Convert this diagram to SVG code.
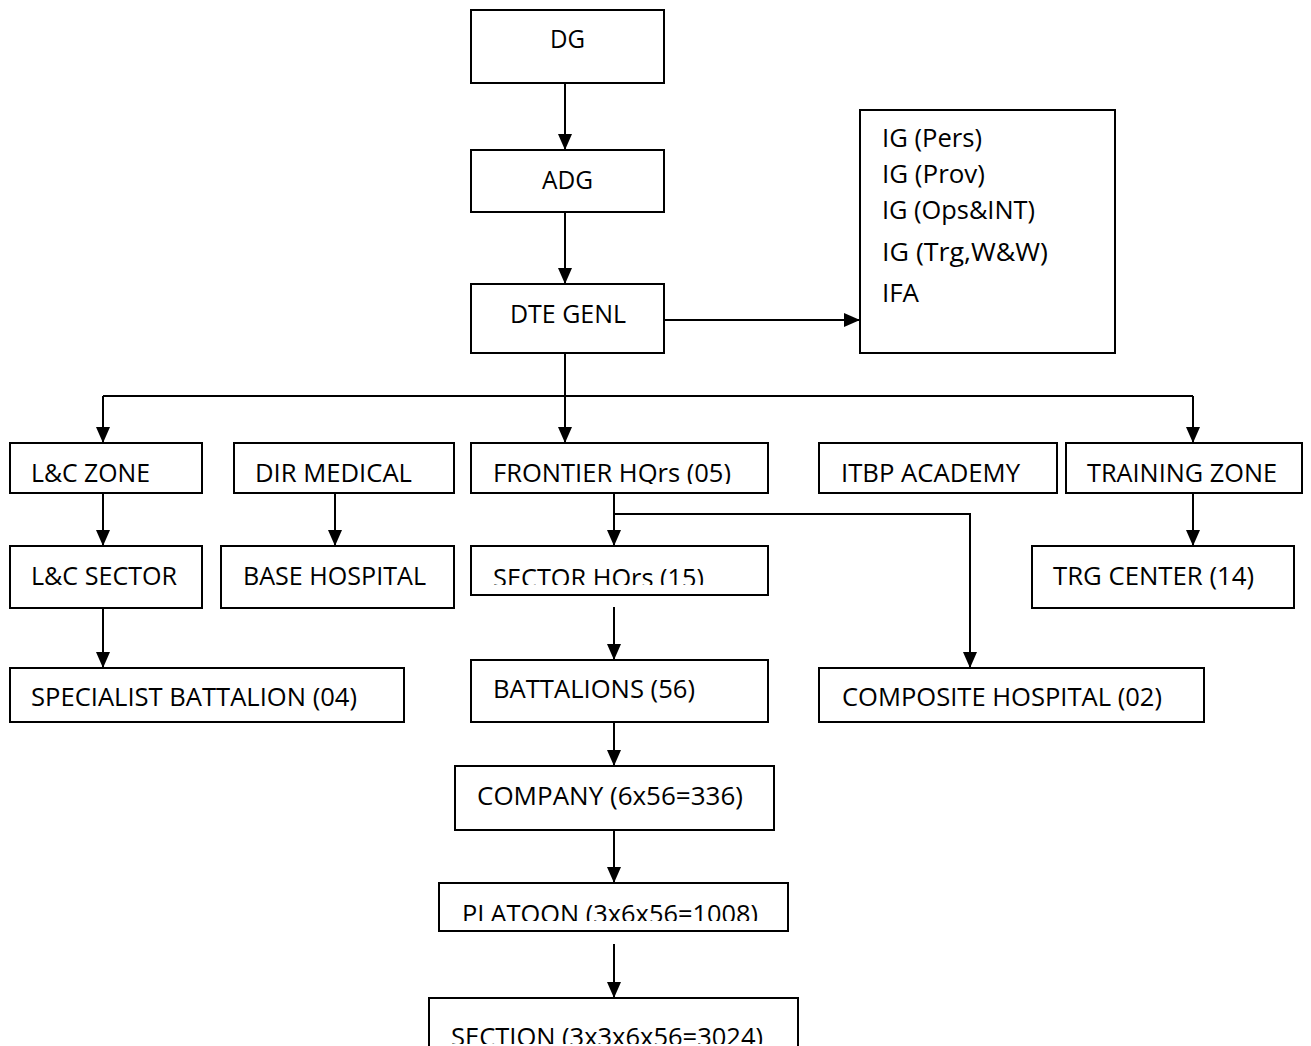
<svg xmlns="http://www.w3.org/2000/svg" width="1311" height="1046" viewBox="0 0 1311 1046">
<style>
.box{fill:#fff;stroke:#000;stroke-width:2}
.t{font-family:"Open Sans","Noto Sans",sans-serif;font-size:26px;fill:#000}
.c{fill:none;stroke:#000;stroke-width:2}
</style>
<defs>
<marker id="ah" viewBox="0 0 16 14" refX="16" refY="7" markerWidth="16" markerHeight="14" markerUnits="userSpaceOnUse" orient="auto">
<path d="M0,0 L16,7 L0,14 z" fill="#000"/>
</marker>
<clipPath id="cpF"><rect x="460" y="440" width="320" height="44"/></clipPath>
<clipPath id="cpS"><rect x="460" y="540" width="320" height="45"/></clipPath>
<clipPath id="cpP"><rect x="430" y="880" width="370" height="41"/></clipPath>
<clipPath id="cpX"><rect x="420" y="990" width="390" height="54"/></clipPath>
</defs>
<g id="connectors">
<line class="c" x1="565" y1="83" x2="565" y2="150" marker-end="url(#ah)"/>
<line class="c" x1="565" y1="212" x2="565" y2="284" marker-end="url(#ah)"/>
<line class="c" x1="664" y1="320" x2="860" y2="320" marker-end="url(#ah)"/>
<polyline class="c" points="565,353 565,396"/>
<polyline class="c" points="103,396 1193,396"/>
<line class="c" x1="103" y1="396" x2="103" y2="443" marker-end="url(#ah)"/>
<line class="c" x1="565" y1="396" x2="565" y2="443" marker-end="url(#ah)"/>
<line class="c" x1="1193" y1="396" x2="1193" y2="443" marker-end="url(#ah)"/>
<line class="c" x1="103" y1="493" x2="103" y2="546" marker-end="url(#ah)"/>
<line class="c" x1="335" y1="493" x2="335" y2="546" marker-end="url(#ah)"/>
<line class="c" x1="614" y1="493" x2="614" y2="546" marker-end="url(#ah)"/>
<polyline class="c" points="614,514 970,514 970,668" marker-end="url(#ah)"/>
<line class="c" x1="1193" y1="493" x2="1193" y2="546" marker-end="url(#ah)"/>
<line class="c" x1="103" y1="608" x2="103" y2="668" marker-end="url(#ah)"/>
<line class="c" x1="614" y1="607" x2="614" y2="660" marker-end="url(#ah)"/>
<line class="c" x1="614" y1="722" x2="614" y2="766" marker-end="url(#ah)"/>
<line class="c" x1="614" y1="830" x2="614" y2="883" marker-end="url(#ah)"/>
<line class="c" x1="614" y1="944" x2="614" y2="998" marker-end="url(#ah)"/>
</g>
<g id="n-dg"><rect class="box" x="471" y="10" width="193" height="73"/><text class="t" x="550" y="48" textLength="35" lengthAdjust="spacingAndGlyphs">DG</text></g>
<g id="n-adg"><rect class="box" x="471" y="150" width="193" height="62"/><text class="t" x="542" y="189" textLength="51" lengthAdjust="spacingAndGlyphs">ADG</text></g>
<g id="n-dte"><rect class="box" x="471" y="284" width="193" height="69"/><text class="t" x="510" y="323" textLength="116" lengthAdjust="spacingAndGlyphs">DTE GENL</text></g>
<g id="n-ig"><rect class="box" x="860" y="110" width="255" height="243"/>
<text class="t" x="882" y="147" textLength="100" lengthAdjust="spacingAndGlyphs">IG (Pers)</text>
<text class="t" x="882" y="183" textLength="103" lengthAdjust="spacingAndGlyphs">IG (Prov)</text>
<text class="t" x="882" y="219" textLength="153" lengthAdjust="spacingAndGlyphs">IG (Ops&amp;INT)</text>
<text class="t" x="882" y="261" textLength="166" lengthAdjust="spacingAndGlyphs">IG (Trg,W&amp;W)</text>
<text class="t" x="882" y="302" textLength="37" lengthAdjust="spacingAndGlyphs">IFA</text>
</g>
<g id="n-lczone"><rect class="box" x="10" y="443" width="192" height="50"/><text class="t" x="31" y="482" textLength="119" lengthAdjust="spacingAndGlyphs">L&amp;C ZONE</text></g>
<g id="n-dirmed"><rect class="box" x="234" y="443" width="220" height="50"/><text class="t" x="255" y="482" textLength="157" lengthAdjust="spacingAndGlyphs">DIR MEDICAL</text></g>
<g id="n-frontier"><rect class="box" x="471" y="443" width="297" height="50"/><text class="t" x="493" y="482" textLength="238" lengthAdjust="spacingAndGlyphs" clip-path="url(#cpF)">FRONTIER HQrs (05)</text></g>
<g id="n-itbp"><rect class="box" x="819" y="443" width="238" height="50"/><text class="t" x="841" y="482" textLength="179" lengthAdjust="spacingAndGlyphs">ITBP ACADEMY</text></g>
<g id="n-trgzone"><rect class="box" x="1066" y="443" width="236" height="50"/><text class="t" x="1087" y="482" textLength="190" lengthAdjust="spacingAndGlyphs">TRAINING ZONE</text></g>
<g id="n-lcsector"><rect class="box" x="10" y="546" width="192" height="62"/><text class="t" x="31" y="585" textLength="146" lengthAdjust="spacingAndGlyphs">L&amp;C SECTOR</text></g>
<g id="n-basehosp"><rect class="box" x="221" y="546" width="233" height="62"/><text class="t" x="243" y="585" textLength="183" lengthAdjust="spacingAndGlyphs">BASE HOSPITAL</text></g>
<g id="n-sector"><rect class="box" x="471" y="546" width="297" height="49"/><text class="t" x="493" y="587" textLength="211" lengthAdjust="spacingAndGlyphs" clip-path="url(#cpS)">SECTOR HQrs (15)</text></g>
<g id="n-trgcenter"><rect class="box" x="1032" y="546" width="262" height="62"/><text class="t" x="1053" y="585" textLength="201" lengthAdjust="spacingAndGlyphs">TRG CENTER (14)</text></g>
<g id="n-specialist"><rect class="box" x="10" y="668" width="394" height="54"/><text class="t" x="31" y="706" textLength="326" lengthAdjust="spacingAndGlyphs">SPECIALIST BATTALION (04)</text></g>
<g id="n-battalions"><rect class="box" x="471" y="660" width="297" height="62"/><text class="t" x="493" y="698" textLength="202" lengthAdjust="spacingAndGlyphs">BATTALIONS (56)</text></g>
<g id="n-composite"><rect class="box" x="819" y="668" width="385" height="54"/><text class="t" x="842" y="706" textLength="320" lengthAdjust="spacingAndGlyphs">COMPOSITE HOSPITAL (02)</text></g>
<g id="n-company"><rect class="box" x="455" y="766" width="319" height="64"/><text class="t" x="477" y="805" textLength="266" lengthAdjust="spacingAndGlyphs">COMPANY (6x56=336)</text></g>
<g id="n-platoon"><rect class="box" x="439" y="883" width="349" height="48"/><text class="t" x="462" y="923" textLength="296" lengthAdjust="spacingAndGlyphs" clip-path="url(#cpP)">PLATOON (3x6x56=1008)</text></g>
<g id="n-section"><rect class="box" x="429" y="998" width="369" height="60"/><text class="t" x="451" y="1046" textLength="312" lengthAdjust="spacingAndGlyphs" clip-path="url(#cpX)">SECTION (3x3x6x56=3024)</text></g>
</svg>
